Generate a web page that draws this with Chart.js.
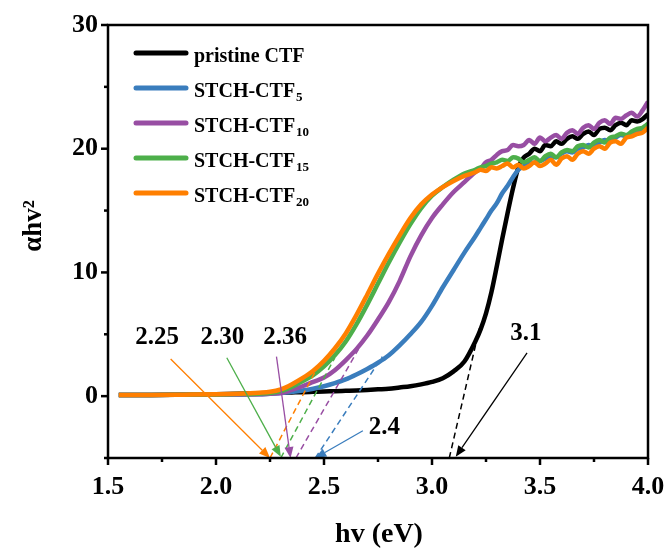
<!DOCTYPE html>
<html>
<head>
<meta charset="utf-8">
<script src="https://cdn.jsdelivr.net/npm/chart.js@4.4.0/dist/chart.umd.min.js"></script>
<style>
  html, body { margin: 0; padding: 0; background: #fff; }
  #wrap { width: 668px; height: 550px; }
</style>
</head>
<body>
<div id="wrap"><canvas id="grafico"></canvas></div>
<script>
// photon energy (eV)
const energy = [
  1.55, 1.70, 1.85, 2.00, 2.10, 2.20,
  2.25, 2.30, 2.35, 2.40, 2.45, 2.50, 2.55, 2.60, 2.65, 2.70,
  2.75, 2.80, 2.85, 2.90, 2.95, 3.00, 3.05, 3.10, 3.15, 3.20,
  3.225, 3.25, 3.275, 3.30, 3.325, 3.35, 3.375, 3.40, 3.425, 3.45,
  3.475, 3.50, 3.525, 3.55, 3.575, 3.60, 3.625, 3.65, 3.675, 3.70,
  3.725, 3.75, 3.775, 3.80, 3.825, 3.85, 3.875, 3.90, 3.925, 3.95,
  3.975, 4.00
];

// (alpha h v)^2 for each sample
const pristine = [
  0.10, 0.10, 0.12, 0.15, 0.20, 0.22,
  0.25, 0.28, 0.30, 0.32, 0.35, 0.38, 0.40, 0.43, 0.46, 0.50,
  0.55, 0.60, 0.70, 0.80, 0.95, 1.15, 1.45, 2.00, 2.80, 4.40,
  5.40, 6.70, 8.40, 10.5, 12.7, 14.8, 16.8, 18.5, 19.3, 19.6,
  20.0, 19.8, 20.3, 20.2, 20.6, 20.4, 20.8, 21.0, 20.8, 21.2,
  21.4, 21.1, 21.6, 21.7, 21.5, 21.9, 22.1, 21.9, 22.3, 22.2,
  22.4, 22.8
];
const ctf5 = [
  0.10, 0.10, 0.12, 0.13, 0.14, 0.15,
  0.20, 0.25, 0.35, 0.45, 0.60, 0.80, 1.05, 1.35, 1.75, 2.20,
  2.70, 3.30, 4.10, 5.00, 6.00, 7.30, 8.80, 10.2, 11.6, 12.9,
  13.6, 14.3, 15.0, 15.6, 16.4, 17.0, 17.7, 18.3, 18.6, 18.8,
  18.9, 19.0, 19.2, 19.4, 19.3, 19.6, 19.8, 19.7, 20.0, 20.1,
  20.3, 20.2, 20.5, 20.7, 20.6, 20.9, 21.1, 21.0, 21.3, 21.5,
  21.6, 22.0
];
const ctf10 = [
  0.10, 0.10, 0.12, 0.13, 0.14, 0.15,
  0.20, 0.25, 0.50, 0.80, 1.15, 1.50, 2.10, 2.90, 3.80, 4.90,
  6.20, 7.60, 9.30, 11.3, 13.0, 14.4, 15.5, 16.5, 17.3, 18.1,
  18.4, 18.9, 19.1, 19.5, 19.8, 19.9, 20.3, 20.2, 20.3, 20.7,
  20.4, 20.9, 20.6, 20.9, 21.1, 20.8, 21.3, 21.5, 21.2, 21.7,
  21.9, 21.6, 22.1, 22.3, 22.0, 22.5, 22.4, 22.7, 22.9, 22.6,
  23.1, 23.8
];
const ctf15 = [
  0.10, 0.10, 0.12, 0.14, 0.17, 0.20,
  0.25, 0.40, 0.75, 1.20, 1.70, 2.40, 3.30, 4.40, 5.80, 7.40,
  9.10, 10.8, 12.4, 13.9, 15.2, 16.2, 16.9, 17.5, 18.0, 18.3,
  18.5, 18.6, 18.8, 18.9, 19.1, 19.0, 19.3, 19.2, 18.9, 19.1,
  19.3, 19.0, 19.4, 19.6, 19.3, 19.7, 19.9, 19.8, 20.2, 20.3,
  20.1, 20.5, 20.7, 20.5, 20.9, 21.0, 21.2, 21.1, 21.4, 21.6,
  21.7, 22.0
];
const ctf20 = [
  0.10, 0.10, 0.12, 0.15, 0.20, 0.28,
  0.35, 0.55, 0.95, 1.45, 2.05, 2.85, 3.85, 5.05, 6.55, 8.20,
  9.90, 11.5, 13.0, 14.4, 15.5, 16.3, 16.9, 17.4, 17.8, 18.1,
  18.3, 18.2, 18.5, 18.4, 18.6, 18.8, 18.5, 18.7, 18.4, 18.6,
  18.9, 18.6, 18.8, 19.1, 18.7, 19.2, 19.4, 19.1, 19.6, 19.8,
  19.6, 20.0, 20.2, 20.0, 20.5, 20.6, 20.4, 20.9, 21.0, 21.2,
  21.3, 21.7
];

// band gaps read from the tangents (eV)
const gapLabels = ['2.25', '2.30', '2.36', '2.4', '3.1'];

const xMajor = [1.5, 2.0, 2.5, 3.0, 3.5, 4.0];
const yMajor = [0, 10, 20, 30];

// legend names: [text, subscript]
const seriesNames = [
  ['pristine CTF', ''],
  ['STCH-CTF', '5'],
  ['STCH-CTF', '10'],
  ['STCH-CTF', '15'],
  ['STCH-CTF', '20']
];
const colores = ['#000000', '#3a7dbd', '#984ea3', '#4daf4a', '#ff7f00'];

// tangent lines: from the x intercept up to the curve
const tangentes = [
  { c: 4, from: [2.25, -5], to: [2.46, 2.0] },
  { c: 3, from: [2.30, -5], to: [2.55, 3.1] },
  { c: 2, from: [2.37, -5], to: [2.66, 3.8] },
  { c: 1, from: [2.46, -5], to: [2.77, 3.2] },
  { c: 0, from: [3.08, -5], to: [3.22, 5.5] }
];
// arrows from each label to its intercept
const flechas = [
  { c: 4, text: 0, at: [1.727, 4.7], from: [1.79, 3.0], to: [2.25, -5] },
  { c: 3, text: 1, at: [2.03, 4.7], from: [2.05, 3.1], to: [2.30, -4.9] },
  { c: 2, text: 2, at: [2.32, 4.7], from: [2.28, 3.2], to: [2.345, -5] },
  { c: 1, text: 3, at: [2.78, -2.5], from: [2.68, -2.8], to: [2.46, -5] },
  { c: 0, text: 4, at: [3.435, 5.1], from: [3.44, 3.5], to: [3.11, -4.9] }
];

const serie = [pristine, ctf5, ctf10, ctf15, ctf20];
const fuente = '"Liberation Serif", "Times New Roman", serif';

function puntos(vals) {
  return energy.map((e, i) => ({ x: e, y: vals[i] }));
}

function flecha(ctx, x1, y1, x2, y2) {
  const ang = Math.atan2(y2 - y1, x2 - x1);
  const len = 11, half = 4.5;
  const bx = x2 - len * Math.cos(ang), by = y2 - len * Math.sin(ang);
  ctx.beginPath();
  ctx.moveTo(x1, y1);
  ctx.lineTo(bx, by);
  ctx.stroke();
  ctx.beginPath();
  ctx.moveTo(x2, y2);
  ctx.lineTo(bx + half * Math.sin(ang), by - half * Math.cos(ang));
  ctx.lineTo(bx - half * Math.sin(ang), by + half * Math.cos(ang));
  ctx.closePath();
  ctx.fill();
}

const extras = {
  id: 'extras',
  afterDatasetsDraw(chart) {
    const ctx = chart.ctx, xs = chart.scales.x, ys = chart.scales.y;
    ctx.save();
    // dashed tangents
    ctx.lineWidth = 1.5;
    ctx.setLineDash([6, 4]);
    tangentes.forEach(t => {
      ctx.strokeStyle = colores[t.c];
      ctx.beginPath();
      ctx.moveTo(xs.getPixelForValue(t.from[0]), ys.getPixelForValue(t.from[1]));
      ctx.lineTo(xs.getPixelForValue(t.to[0]), ys.getPixelForValue(t.to[1]));
      ctx.stroke();
    });
    ctx.setLineDash([]);
    // arrows + gap values
    ctx.lineWidth = 1.3;
    ctx.font = 'bold 25px ' + fuente;
    ctx.textAlign = 'center';
    ctx.textBaseline = 'middle';
    flechas.forEach(f => {
      ctx.strokeStyle = colores[f.c];
      ctx.fillStyle = colores[f.c];
      flecha(ctx,
        xs.getPixelForValue(f.from[0]), ys.getPixelForValue(f.from[1]),
        xs.getPixelForValue(f.to[0]), ys.getPixelForValue(f.to[1]));
      ctx.fillStyle = '#000';
      ctx.fillText(gapLabels[f.text], xs.getPixelForValue(f.at[0]), ys.getPixelForValue(f.at[1]));
    });
    ctx.restore();
  },
  afterDraw(chart) {
    const ctx = chart.ctx, a = chart.chartArea;
    const xs = chart.scales.x, ys = chart.scales.y;
    ctx.save();
    ctx.strokeStyle = '#000';
    ctx.fillStyle = '#000';
    ctx.lineWidth = 2.5;
    ctx.strokeRect(a.left, a.top, a.right - a.left, a.bottom - a.top);

    // tick marks, outward
    ctx.lineWidth = 2.5;
    for (let v = 1.5; v <= 4.001; v += 0.25) {
      const px = xs.getPixelForValue(v);
      const major = xMajor.some(m => Math.abs(m - v) < 1e-6);
      ctx.beginPath();
      ctx.moveTo(px, a.bottom);
      ctx.lineTo(px, a.bottom + (major ? 7 : 4));
      ctx.stroke();
    }
    for (let v = -5; v <= 30; v += 5) {
      const py = ys.getPixelForValue(v);
      const major = yMajor.includes(v);
      ctx.beginPath();
      ctx.moveTo(a.left, py);
      ctx.lineTo(a.left - (major ? 7 : 4), py);
      ctx.stroke();
    }

    // axis titles
    ctx.textAlign = 'center';
    ctx.textBaseline = 'middle';
    ctx.font = 'bold 28px ' + fuente;
    ctx.fillText('hv (eV)', (a.left + a.right) / 2 + 1, 535);
    ctx.save();
    ctx.translate(34, 226);
    ctx.rotate(-Math.PI / 2);
    ctx.font = 'bold 27px ' + fuente;
    ctx.fillText('\u03b1hv\u00b2', 0, 0);
    ctx.restore();

    // legend
    ctx.textAlign = 'left';
    ctx.textBaseline = 'alphabetic';
    seriesNames.forEach((n, i) => {
      const y = a.top + 28 + i * 35;
      ctx.strokeStyle = colores[i];
      ctx.lineWidth = 5;
      ctx.lineCap = 'round';
      ctx.beginPath();
      ctx.moveTo(a.left + 28, y);
      ctx.lineTo(a.left + 78, y);
      ctx.stroke();
      ctx.font = 'bold 20px ' + fuente;
      ctx.fillText(n[0], a.left + 86, y + 9);
      if (n[1]) {
        const w = ctx.measureText(n[0]).width;
        ctx.font = 'bold 13px ' + fuente;
        ctx.fillText(n[1], a.left + 87 + w, y + 13);
      }
    });
    ctx.restore();
  }
};

const datasets = serie.map((vals, i) => ({
  label: seriesNames[i][0] + seriesNames[i][1],
  data: puntos(vals),
  borderColor: colores[i],
  borderWidth: 4.5,
  pointRadius: 0,
  cubicInterpolationMode: 'monotone',
  fill: false,
  order: 5 - i
}));

new Chart(document.getElementById('grafico'), {
  type: 'line',
  data: { datasets: datasets },
  options: {
    responsive: true,
    maintainAspectRatio: false,
    animation: false,
    devicePixelRatio: 1,
    layout: { padding: { top: 25, right: 20, left: 0, bottom: 0 } },
    plugins: { legend: { display: false }, tooltip: { enabled: false } },
    scales: {
      x: {
        type: 'linear',
        min: 1.5,
        max: 4.0,
        grid: { display: false, drawTicks: false },
        border: { display: false },
        ticks: {
          stepSize: 0.5,
          padding: 14,
          color: '#000',
          maxRotation: 0,
          autoSkip: false,
          font: { family: fuente, size: 26, weight: 'bold' },
          callback: v => v.toFixed(1)
        },
        afterFit(s) {
          s.height = 92;
          // the end labels may hang past the plot edge
          s.paddingLeft = 0;
          s.paddingRight = 0;
        }
      },
      y: {
        min: -5,
        max: 30,
        grid: { display: false, drawTicks: false },
        border: { display: false },
        ticks: {
          stepSize: 5,
          padding: 10,
          color: '#000',
          font: { family: fuente, size: 26, weight: 'bold' },
          callback: v => yMajor.includes(v) ? String(v) : ''
        },
        afterFit(s) {
          s.width = 108;
          s.paddingTop = 0;
          s.paddingBottom = 0;
        }
      }
    }
  },
  plugins: [extras]
});
</script>
</body>
</html>
